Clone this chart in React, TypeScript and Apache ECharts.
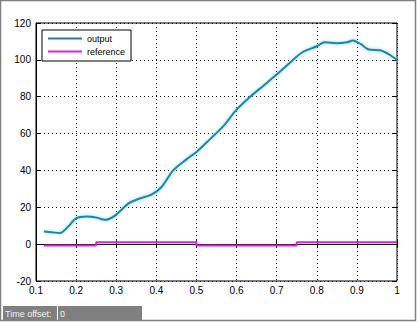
import React, { useEffect, useRef } from "react";
import * as echarts from "echarts";

const outputX = [0.12, 0.14, 0.16, 0.18, 0.2, 0.226, 0.25, 0.272, 0.297, 0.33, 0.355, 0.389, 0.413, 0.442, 0.475, 0.5, 0.534, 0.567, 0.6, 0.634, 0.667, 0.7, 0.733, 0.763, 0.8, 0.82, 0.85, 0.875, 0.89, 0.91, 0.93, 0.958, 0.98, 1.0];
const outputY = [6.8, 6.4, 6.0, 9.5, 14, 15, 14.5, 13.2, 15.5, 22, 24.5, 27, 31, 40, 46, 50, 57, 64, 73, 80, 86, 92, 98.4, 104, 107.4, 109.5, 109, 109.5, 110.5, 108.5, 105.6, 105.2, 103, 100];
const referenceX = [0.12, 0.25, 0.25, 0.5, 0.5, 0.75, 0.75, 1.0];
const referenceY = [-0.8, -0.8, 1, 1, -0.8, -0.8, 1, 1];
const seriesNames = ["output", "reference"];
const timeOffsetLabel = "Time offset:";
const timeOffsetValue = "0";

const FONT = "'Liberation Sans', Arial, sans-serif";

export default function App() {
  const ref = useRef<HTMLDivElement>(null);
  useEffect(() => {
    document.body.style.margin = "0";
    const chart = echarts.init(ref.current!, null, { renderer: "svg" });
    const tickStyle = { show: true, inside: true, length: 4, lineStyle: { color: "#000" } };
    const split = { show: true, lineStyle: { color: "#000", type: [1, 3] as any, width: 1 } };
    chart.setOption({
      animation: false,
      backgroundColor: "#fff",
      textStyle: { fontFamily: FONT },
      grid: { left: 36, top: 23, right: 21, bottom: 42, show: true, borderColor: "#000", borderWidth: 1, backgroundColor: "#fff" },
      legend: {
        show: true,
        orient: "vertical",
        left: 42,
        top: 30,
        padding: [4, 6, 5, 6],
        itemGap: 4,
        itemWidth: 34,
        itemHeight: 2,
        icon: "rect",
        borderColor: "#000",
        borderWidth: 1,
        backgroundColor: "#fff",
        textStyle: { fontSize: 9, color: "#000", fontFamily: FONT },
        data: seriesNames,
      },
      xAxis: [
        {
          type: "value",
          min: 0.1,
          max: 1,
          interval: 0.1,
          axisLine: { show: true, lineStyle: { color: "#000" } },
          axisTick: tickStyle,
          splitLine: split,
          axisLabel: {
            color: "#000",
            fontSize: 10,
            margin: 4,
            fontFamily: FONT,
            formatter: (v: number) => String(Math.round(v * 10) / 10),
          },
        },
        {
          type: "value",
          position: "top",
          min: 0.1,
          max: 1,
          interval: 0.1,
          axisLine: { show: false },
          axisTick: tickStyle,
          splitLine: { show: false },
          axisLabel: { show: false },
        },
      ],
      yAxis: [
        {
          type: "value",
          min: -20,
          max: 120,
          interval: 20,
          axisLine: { show: true, lineStyle: { color: "#000" } },
          axisTick: tickStyle,
          splitLine: split,
          axisLabel: { color: "#000", fontSize: 10, margin: 5, fontFamily: FONT },
        },
        {
          type: "value",
          position: "right",
          min: -20,
          max: 120,
          interval: 20,
          axisLine: { show: false },
          axisTick: tickStyle,
          splitLine: { show: false },
          axisLabel: { show: false },
        },
      ],
      series: [
        {
          name: seriesNames[0],
          type: "line",
          smooth: 0.3,
          showSymbol: false,
          color: "#2a7fa6",
          lineStyle: { width: 2, color: "#2a7fa6", shadowColor: "rgba(90,220,240,0.9)", shadowBlur: 3 },
          data: outputX.map((x, i) => [x, outputY[i]]),
        },
        {
          name: seriesNames[1],
          type: "line",
          showSymbol: false,
          color: "#e020d8",
          lineStyle: { width: 2, color: "#e020d8" },
          data: referenceX.map((x, i) => [x, referenceY[i]]),
        },
      ],
      graphic: [
        {
          type: "rect",
          shape: { x: 0.5, y: 0.5, width: 415, height: 320 },
          style: { fill: "none", stroke: "#808080", lineWidth: 1.5 },
          silent: true,
        },
        {
          type: "rect",
          shape: { x: 3, y: 306, width: 54, height: 15 },
          style: { fill: "#808080" },
        },
        {
          type: "text",
          x: 5,
          y: 313.5,
          style: { text: timeOffsetLabel, fill: "#f0f0f0", fontSize: 9, fontFamily: FONT, verticalAlign: "middle" },
        },
        {
          type: "rect",
          shape: { x: 58, y: 306, width: 84, height: 15 },
          style: { fill: "#808080" },
        },
        {
          type: "text",
          x: 60,
          y: 313.5,
          style: { text: timeOffsetValue, fill: "#f0f0f0", fontSize: 9, fontFamily: FONT, verticalAlign: "middle" },
        },
      ],
    });
    return () => chart.dispose();
  }, []);
  return <div ref={ref} style={{ width: 418, height: 323 }} />;
}
